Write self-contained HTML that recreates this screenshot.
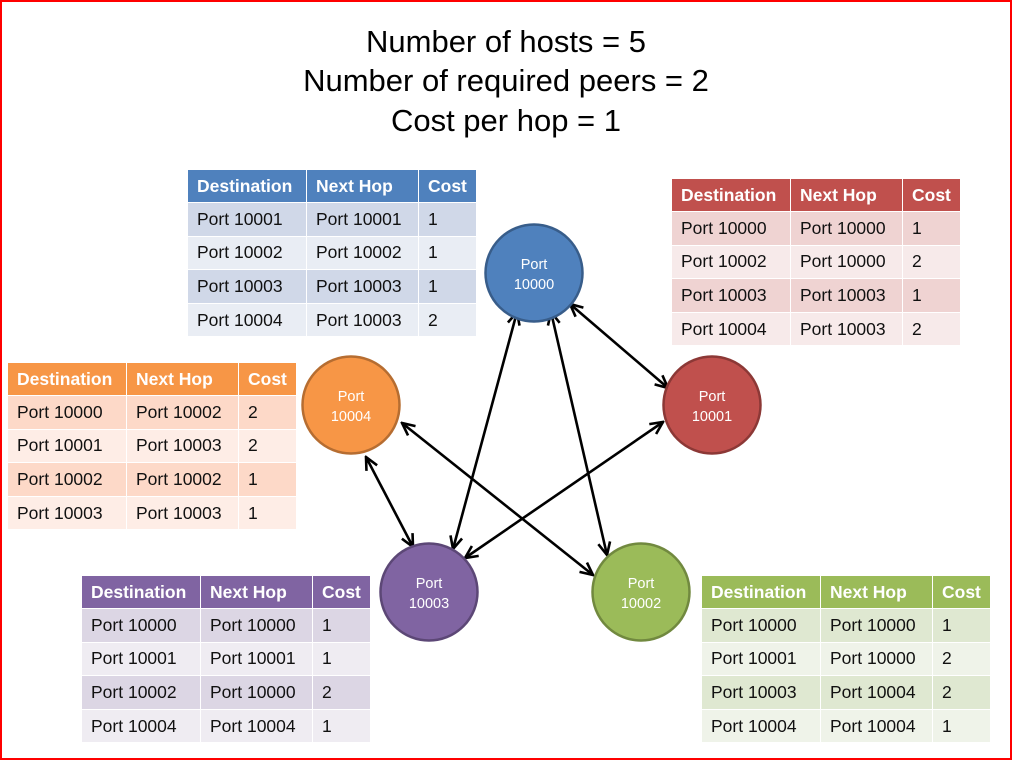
<!DOCTYPE html>
<html><head><meta charset="utf-8"><style>
*{margin:0;padding:0;box-sizing:border-box}
body{width:1012px;height:760px;background:#fff;position:relative;overflow:hidden;font-family:"Liberation Sans",sans-serif}
.frame{position:absolute;left:0;top:0;width:1012px;height:760px;border:2px solid #f00;z-index:5;pointer-events:none}
.title{position:absolute;left:0;width:1012px;text-align:center;font-size:31px;color:#000;line-height:36px}
.t{position:absolute;width:290px}
.t table{border-collapse:collapse;width:290px;font-size:17.5px}
.t td{height:33.6px;padding-left:9px;border:1.5px solid #fff;color:#111;white-space:nowrap}
.t tr:first-child td{color:#fff;font-weight:bold;height:33px}
.t td:nth-child(1){width:119px}.t td:nth-child(2){width:112px}
svg{position:absolute;left:0;top:0}
</style></head><body>
<div class="title" style="top:24px">Number of hosts = 5</div>
<div class="title" style="top:63px">Number of required peers = 2</div>
<div class="title" style="top:103px">Cost per hop = 1</div>

<div class="t" style="left:187px;top:169px"><table>
<tr style="background:#4f81bd"><td>Destination</td><td>Next Hop</td><td>Cost</td></tr>
<tr style="background:#d0d8e8"><td>Port 10001</td><td>Port 10001</td><td>1</td></tr>
<tr style="background:#e9edf4"><td>Port 10002</td><td>Port 10002</td><td>1</td></tr>
<tr style="background:#d0d8e8"><td>Port 10003</td><td>Port 10003</td><td>1</td></tr>
<tr style="background:#e9edf4"><td>Port 10004</td><td>Port 10003</td><td>2</td></tr>
</table></div>

<div class="t" style="left:671px;top:178px"><table>
<tr style="background:#c0504d"><td>Destination</td><td>Next Hop</td><td>Cost</td></tr>
<tr style="background:#efd3d2"><td>Port 10000</td><td>Port 10000</td><td>1</td></tr>
<tr style="background:#f7eaea"><td>Port 10002</td><td>Port 10000</td><td>2</td></tr>
<tr style="background:#efd3d2"><td>Port 10003</td><td>Port 10003</td><td>1</td></tr>
<tr style="background:#f7eaea"><td>Port 10004</td><td>Port 10003</td><td>2</td></tr>
</table></div>

<div class="t" style="left:7px;top:362px"><table>
<tr style="background:#f79646"><td>Destination</td><td>Next Hop</td><td>Cost</td></tr>
<tr style="background:#fdd9c8"><td>Port 10000</td><td>Port 10002</td><td>2</td></tr>
<tr style="background:#feede6"><td>Port 10001</td><td>Port 10003</td><td>2</td></tr>
<tr style="background:#fdd9c8"><td>Port 10002</td><td>Port 10002</td><td>1</td></tr>
<tr style="background:#feede6"><td>Port 10003</td><td>Port 10003</td><td>1</td></tr>
</table></div>

<div class="t" style="left:81px;top:575px"><table>
<tr style="background:#8064a2"><td>Destination</td><td>Next Hop</td><td>Cost</td></tr>
<tr style="background:#dcd6e4"><td>Port 10000</td><td>Port 10000</td><td>1</td></tr>
<tr style="background:#efecf2"><td>Port 10001</td><td>Port 10001</td><td>1</td></tr>
<tr style="background:#dcd6e4"><td>Port 10002</td><td>Port 10000</td><td>2</td></tr>
<tr style="background:#efecf2"><td>Port 10004</td><td>Port 10004</td><td>1</td></tr>
</table></div>

<div class="t" style="left:701px;top:575px"><table>
<tr style="background:#9bbb59"><td>Destination</td><td>Next Hop</td><td>Cost</td></tr>
<tr style="background:#dfe8d1"><td>Port 10000</td><td>Port 10000</td><td>1</td></tr>
<tr style="background:#eff3e9"><td>Port 10001</td><td>Port 10000</td><td>2</td></tr>
<tr style="background:#dfe8d1"><td>Port 10003</td><td>Port 10004</td><td>2</td></tr>
<tr style="background:#eff3e9"><td>Port 10004</td><td>Port 10004</td><td>1</td></tr>
</table></div>

<svg width="1012" height="760" viewBox="0 0 1012 760">
<defs>
<marker id="a" viewBox="0 0 16 16" refX="14.5" refY="8" markerWidth="16" markerHeight="16" markerUnits="userSpaceOnUse" orient="auto-start-reverse">
<path d="M2,2 L14.5,8 L2,14" fill="none" stroke="#000" stroke-width="2.6"/>
</marker>
</defs>
<g stroke="#000" stroke-width="2.6" fill="none" marker-start="url(#a)" marker-end="url(#a)">
<line x1="570" y1="304" x2="668" y2="388"/>
<line x1="517" y1="312" x2="453" y2="549"/>
<line x1="551" y1="312" x2="607" y2="555"/>
<line x1="402" y1="423" x2="593" y2="575"/>
<line x1="366" y1="457" x2="413" y2="547"/>
<line x1="465" y1="558" x2="663" y2="422"/>
</g>
<g stroke-width="2.5">
<circle cx="534" cy="273" r="48.5" fill="#4f81bd" stroke="#385d8a"/>
<circle cx="712" cy="405" r="48.5" fill="#c0504d" stroke="#8c3836"/>
<circle cx="351" cy="405" r="48.5" fill="#f79646" stroke="#b66d31"/>
<circle cx="429" cy="592" r="48.5" fill="#8064a2" stroke="#5c4776"/>
<circle cx="641" cy="592" r="48.5" fill="#9bbb59" stroke="#71893f"/>
</g>
<g fill="#fff" font-family="Liberation Sans, sans-serif" font-size="14.5" text-anchor="middle">
<text x="534" y="269">Port</text><text x="534" y="289">10000</text>
<text x="712" y="401">Port</text><text x="712" y="421">10001</text>
<text x="351" y="401">Port</text><text x="351" y="421">10004</text>
<text x="429" y="588">Port</text><text x="429" y="608">10003</text>
<text x="641" y="588">Port</text><text x="641" y="608">10002</text>
</g>
</svg>
<div class="frame"></div>
</body></html>
